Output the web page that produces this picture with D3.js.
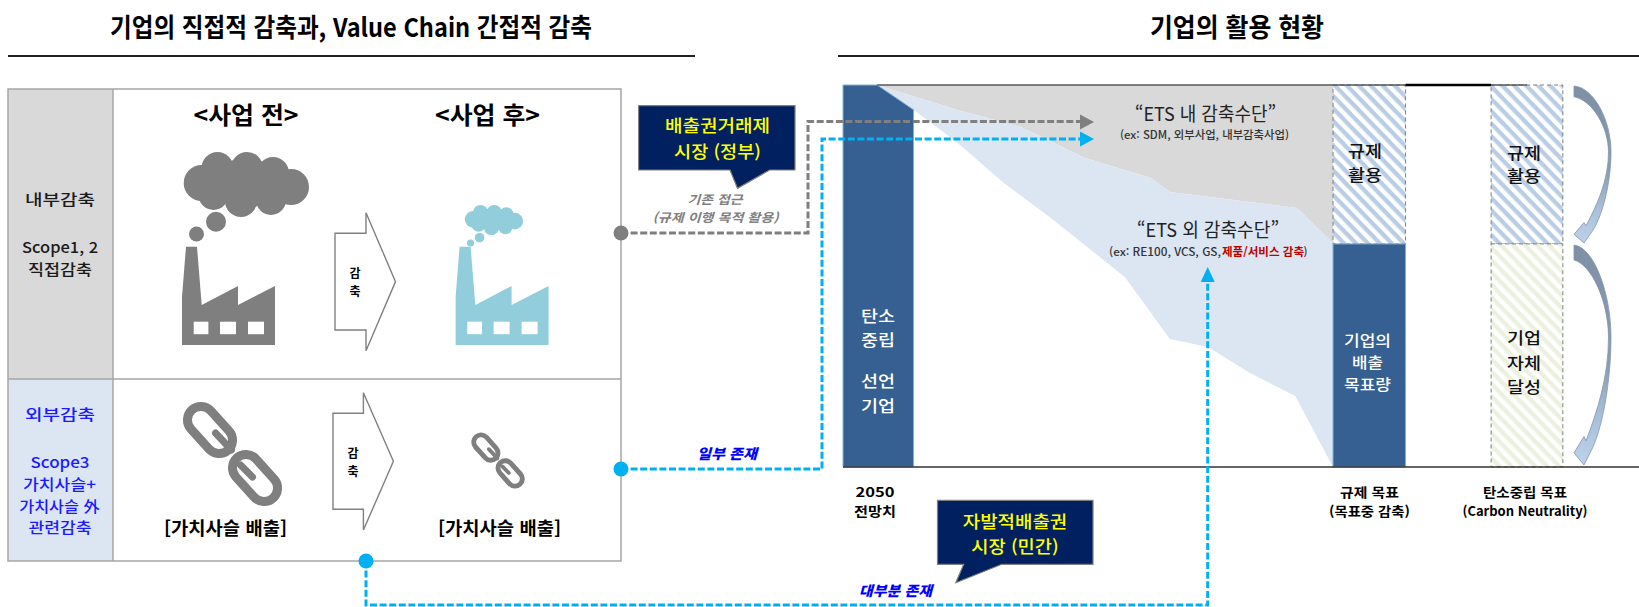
<!DOCTYPE html>
<html lang="ko">
<head>
<meta charset="utf-8">
<title>기업의 감축과 활용 현황</title>
<script src="https://cdn.jsdelivr.net/npm/d3@7/dist/d3.min.js"></script>
<style>
  html, body { margin: 0; padding: 0; background: #fff; }
  svg { display: block; }
  text { font-family: "Noto Sans CJK KR", "Noto Sans", sans-serif; }
</style>
</head>
<body>
<svg id="chart" width="1639" height="607"></svg>
<script>
// Emission pathway, x = 0 at the 2050 outlook bar, x = 100 at the regulatory target bar,
// y = share of the 2050 outlook (%)
const etsEdgeX   = [100, 91.4, 61.1, 56.4, 40.9, 25.6, 10.3, -8.7];
const etsEdgeY   = [58.6, 67.8, 72, 75.7, 80.9, 89, 93.5, 100];
const otherEdgeX = [-8.7, 0, 10.3, 21.6, 32.5, 50.4, 61.1, 70.2, 80.2, 91, 100];
const otherEdgeY = [100, 93.5, 85, 74.3, 65.4, 49.7, 33.5, 31.4, 24.6, 18.6, 0];

// Column spans and the level that divides regulated use from own reduction
const outlookSpan = [-16.83, 0];
const targetSpan = [100, 117.3];
const neutralSpan = [137.7, 154.8];
const stackLevel = 58.4;

// Text
const headings = ["기업의 직접적 감축과, Value Chain 간접적 감축", "기업의 활용 현황"];
const stageLabels = ["<사업 전>", "<사업 후>"];
const chainCaption = "[가치사슬 배출]";
const scopeInner = ["내부감축", "Scope1, 2", "직접감축"];
const scopeOuter = ["외부감축", "Scope3", "가치사슬+", "가치사슬 外", "관련감축"];
const calloutGov = ["배출권거래제", "시장 (정부)"];
const calloutPrivate = ["자발적배출권", "시장 (민간)"];
const axisCaptions = [["2050", "전망치"], ["규제 목표", "(목표중 감축)"], ["탄소중립 목표", "(Carbon Neutrality)"]];

const svg = d3.select("#chart");
const defs = svg.append("defs");

const sx = d3.scaleLinear().domain([0, 100]).range([913.6, 1333]);
const sy = d3.scaleLinear().domain([0, 100]).range([467, 85]);
const poly = d3.line().x(d => sx(d[0])).y(d => sy(d[1]));
const px = d3.line().x(d => d[0]).y(d => d[1]);

const COLORS = {
  rule: "#a6a6a6", grayCell: "#d9d9d9", blueCell: "#dce6f2", bar: "#376092", barEdge: "#7fb3cf",
  icon: "#7f7f7f", iconLight: "#92cddc", navy: "#002060", cyan: "#00b0f0", grayLine: "#7f7f7f"
};

function label(parent, text, cx, cy, width, size, o = {}) {
  const t = parent.append("text")
    .attr("x", cx).attr("y", cy)
    .attr("text-anchor", "middle").attr("dominant-baseline", "central")
    .attr("font-size", size)
    .attr("font-weight", o.weight || 400)
    .attr("font-style", o.italic ? "italic" : null)
    .attr("fill", o.fill || "#111")
    .text(text);
  if (width) t.attr("textLength", width).attr("lengthAdjust", "spacingAndGlyphs");
  return t;
}

/* Section headings and their rules */
const head = svg.append("g");
label(head, headings[0], 351, 25, 482, 26, { weight: 700, fill: "#000" });
label(head, headings[1], 1237, 25, 174, 26, { weight: 700, fill: "#000" });
head.append("rect").attr("x", 8).attr("y", 55).attr("width", 687).attr("height", 2).attr("fill", "#222");
head.append("rect").attr("x", 838).attr("y", 55).attr("width", 801).attr("height", 2).attr("fill", "#222");

/* Left table */
const table = svg.append("g");
table.append("rect").attr("x", 8).attr("y", 89).attr("width", 105).attr("height", 290).attr("fill", COLORS.grayCell);
table.append("rect").attr("x", 8).attr("y", 379).attr("width", 105).attr("height", 182).attr("fill", COLORS.blueCell);
table.append("rect").attr("x", 8).attr("y", 89).attr("width", 613).attr("height", 472)
  .attr("fill", "none").attr("stroke", COLORS.rule).attr("stroke-width", 1.5);
table.selectAll("line.row").data([[8, 379, 621, 379], [113, 89, 113, 561]]).join("line")
  .attr("x1", d => d[0]).attr("y1", d => d[1]).attr("x2", d => d[2]).attr("y2", d => d[3])
  .attr("stroke", COLORS.rule).attr("stroke-width", 1.5);

[[198, 70], [246, 76], [268, 64]].forEach((p, i) =>
  label(table, scopeInner[i], 60, p[0], p[1], 15, { fill: "#1a1a1a", weight: 500 }));
[[413, 70, 60], [461, 59, 60], [483, 73, 59.5], [505, 80.5, 59.5], [526, 63, 60]].forEach((p, i) =>
  label(table, scopeOuter[i], p[2], p[0], p[1], 15, { fill: "#1a1aff", weight: 500 }));

label(table, stageLabels[0], 246, 113, 105, 24, { weight: 700, fill: "#000" });
label(table, stageLabels[1], 487.5, 113, 105, 24, { weight: 700, fill: "#000" });

/* Factory with a smoke cloud */
const cloudLobes = [[201.7, 183, 18], [217.5, 168, 16], [247, 168, 16], [273, 173, 16], [291, 187, 18],
  [241, 201, 16], [213.5, 195, 15], [271, 200, 15], [245, 183, 26]];
const factoryBody = [[182, 345], [182, 296.7], [186, 246.7], [197, 246.7], [201.7, 305], [238, 286], [238, 305],
  [275, 286], [275, 345]];
const factoryWindows = [[193.7, 14.7], [220, 16], [248, 16]];

function factory(dx, color, cloudCx, cloudCy, k, puffs) {
  const g = table.append("g");
  g.append("g").selectAll("circle").data(cloudLobes).join("circle")
    .attr("cx", d => cloudCx + (d[0] - 246.5) * k)
    .attr("cy", d => cloudCy + (d[1] - 184.5) * k)
    .attr("r", d => d[2] * k).attr("fill", color);
  g.append("g").selectAll("circle").data(puffs).join("circle")
    .attr("cx", d => d[0]).attr("cy", d => d[1]).attr("r", d => d[2]).attr("fill", color);
  g.append("path").attr("d", px(factoryBody.map(d => [d[0] + dx, d[1]])) + "Z").attr("fill", color);
  g.append("g").selectAll("rect").data(factoryWindows).join("rect")
    .attr("x", d => d[0] + dx).attr("y", 321.7).attr("width", d => d[1]).attr("height", 12.5).attr("fill", "#fff");
}
factory(0, COLORS.icon, 246.5, 184.5, 1, [[216, 221.7, 10], [196.5, 234, 7.5]]);
factory(273.6, COLORS.iconLight, 494, 220, 0.465, [[479.6, 237.7, 4.8], [470.5, 243, 3.6]]);

/* Chain links */
function chain(cx, cy, k) {
  const g = table.append("g").attr("transform", `translate(${cx},${cy}) scale(${k})`)
    .attr("fill", "none").attr("stroke", COLORS.icon);
  [[-22.5, -24], [22.5, 24]].forEach(c => {
    g.append("rect")
      .attr("x", -27).attr("y", -13.5).attr("width", 54).attr("height", 27).attr("rx", 13.5)
      .attr("transform", `translate(${c[0]},${c[1]}) rotate(48)`)
      .attr("stroke-width", 9);
  });
  g.append("path").attr("d", "M-17,-21L-1,-4").attr("stroke-width", 7).attr("stroke-linecap", "round");
  g.append("path").attr("d", "M8,11L20,23").attr("stroke-width", 7).attr("stroke-linecap", "round");
}
chain(232.5, 454, 1);
chain(498, 460.5, 0.54);
label(table, chainCaption, 225.5, 527, 123, 18, { weight: 700, fill: "#000" });
label(table, chainCaption, 499.5, 527, 123, 18, { weight: 700, fill: "#000" });

/* Reduction block arrows */
function blockArrow(x0, x1, x2, yTop, yBar0, yBar1, yBottom) {
  const g = table.append("g");
  const yMid = (yBar0 + yBar1) / 2;
  g.append("path")
    .attr("d", px([[x0, yBar0], [x1, yBar0], [x1, yTop], [x2, yMid], [x1, yBottom], [x1, yBar1], [x0, yBar1]]) + "Z")
    .attr("fill", "#fff").attr("stroke", "#808080").attr("stroke-width", 1.4);
  const tx = x0 + 20;
  label(g, "감", tx, yMid - 9, null, 12, { weight: 700, fill: "#000" });
  label(g, "축", tx, yMid + 9, null, 12, { weight: 700, fill: "#000" });
}
blockArrow(335, 366, 395.5, 212.7, 233.3, 330, 350.7);
blockArrow(333, 363.4, 393.4, 392.7, 413.3, 509.3, 530);

/* Emission pathway panel */
const chart = svg.append("g");

const hatch = (id, color) => {
  const p = defs.append("pattern").attr("id", id).attr("patternUnits", "userSpaceOnUse")
    .attr("width", 8.6).attr("height", 8.6).attr("patternTransform", "rotate(46)");
  p.append("rect").attr("width", 8.6).attr("height", 8.6).attr("fill", "#fff");
  p.append("rect").attr("width", 8.6).attr("height", 4.3).attr("fill", color);
};
hatch("hatchBlue", "#b9cde5");
hatch("hatchGreen", "#ebf1de");

const etsEdge = etsEdgeX.map((x, i) => [x, etsEdgeY[i]]);
const otherEdge = otherEdgeX.map((x, i) => [x, otherEdgeY[i]]);
chart.append("path").attr("d", poly([[-8.7, 100], [100, 100], ...etsEdge]) + "Z").attr("fill", COLORS.grayCell);
chart.append("path").attr("d", poly([...etsEdge, ...otherEdge]) + "Z").attr("fill", COLORS.blueCell);

// 2050 outlook column, its top right corner follows the reduction edge
chart.append("path")
  .attr("d", poly([[outlookSpan[0], 0], [outlookSpan[0], 100], [-8.7, 100], [outlookSpan[1], 93.5], [outlookSpan[1], 0]]) + "Z")
  .attr("fill", COLORS.bar).attr("stroke", COLORS.barEdge).attr("stroke-width", 1);

function hatchedBlock(span, y0, y1, fill) {
  chart.append("rect")
    .attr("x", sx(span[0])).attr("width", sx(span[1]) - sx(span[0]))
    .attr("y", sy(y1)).attr("height", sy(y0) - sy(y1))
    .attr("fill", fill).attr("stroke", COLORS.grayLine).attr("stroke-width", 1).attr("stroke-dasharray", "4 3");
}
hatchedBlock(targetSpan, stackLevel, 100, "url(#hatchBlue)");
chart.append("rect")
  .attr("x", sx(targetSpan[0])).attr("width", sx(targetSpan[1]) - sx(targetSpan[0]))
  .attr("y", sy(stackLevel)).attr("height", sy(0) - sy(stackLevel))
  .attr("fill", COLORS.bar).attr("stroke", COLORS.barEdge).attr("stroke-width", 1);
hatchedBlock(neutralSpan, stackLevel, 100, "url(#hatchBlue)");
hatchedBlock(neutralSpan, 0, stackLevel, "url(#hatchGreen)");

// Top and base rules
chart.append("line").attr("x1", sx(-8.7)).attr("x2", 1527).attr("y1", sy(100)).attr("y2", sy(100))
  .attr("stroke", "#595959").attr("stroke-width", 1.5);
chart.append("line").attr("x1", sx(targetSpan[1])).attr("x2", sx(neutralSpan[0])).attr("y1", sy(100)).attr("y2", sy(100))
  .attr("stroke", "#000").attr("stroke-width", 2.5);
chart.append("line").attr("x1", sx(outlookSpan[0])).attr("x2", 1639).attr("y1", sy(0)).attr("y2", sy(0))
  .attr("stroke", "#333").attr("stroke-width", 1.6);

// Column labels
[["탄소", 315], ["중립", 339], ["선언", 380], ["기업", 405]].forEach(d =>
  label(chart, d[0], 878, d[1], 34, 16, { fill: "#fff", weight: 500 }));
[["규제", 150], ["활용", 174]].forEach(d => label(chart, d[0], 1365, d[1], 34, 16, { fill: "#111", weight: 500 }));
[["규제", 151.5], ["활용", 175]].forEach(d => label(chart, d[0], 1524, d[1], 34, 16, { fill: "#111", weight: 500 }));
[["기업의", 339, 47], ["배출", 361.5, 31], ["목표량", 383, 47]].forEach(d =>
  label(chart, d[0], 1367.5, d[1], d[2], 15, { fill: "#fff", weight: 500 }));
[["기업", 337], ["자체", 362], ["달성", 386]].forEach(d => label(chart, d[0], 1524, d[1], 34, 16, { fill: "#111", weight: 500 }));

// Reduction means captions
label(chart, "“ETS 내 감축수단”", 1205.5, 112, 141, 19, { fill: "#222" });
label(chart, "(ex: SDM, 외부사업, 내부감축사업)", 1204.5, 134, 169, 11, { fill: "#333", weight: 500 });
label(chart, "“ETS 외 감축수단”", 1208, 228, 142, 19, { fill: "#222" });
label(chart, "(ex: RE100, VCS, GS,", 1165, 251, 112, 11, { fill: "#333", weight: 500 });
label(chart, "제품/서비스 감축", 1263, 251, 82, 11, { fill: "#c00000", weight: 700 });
label(chart, ")", 1305.5, 251, null, 11, { fill: "#333", weight: 500 });

// Axis captions
const captionCenters = [875, 1369.5, 1525];
const captionWidths = [[39, 42], [59, 81], [84, 125]];
axisCaptions.forEach((pair, i) => {
  label(chart, pair[0], captionCenters[i], 491.5, captionWidths[i][0], 13, { weight: 700, fill: "#000" });
  label(chart, pair[1], captionCenters[i], 510.5, captionWidths[i][1], 13, { weight: 700, fill: "#000" });
});

/* Curved brace arrows beside the carbon neutrality column */
defs.append("linearGradient").attr("id", "braceFill").attr("x1", 0).attr("y1", 0).attr("x2", 0).attr("y2", 1)
  .selectAll("stop")
  .data([[0, "#7d90a6"], [0.55, "#8a9db4"], [0.78, "#a9c0da"], [1, "#bdd2ea"]])
  .join("stop").attr("offset", d => d[0]).attr("stop-color", d => d[1]);

function brace(y0, y1) {
  const h = y1 - y0;
  const Y = t => y0 + h * t;
  const X = 1574;
  const d = `M${X},${Y(0)}
    C${X + 20},${Y(0.01)} ${X + 37},${Y(0.22)} ${X + 37},${Y(0.42)}
    C${X + 37},${Y(0.62)} ${X + 28},${Y(0.85)} ${X + 16},${Y(0.945)}
    L${X + 10},${Y(1)} L${X},${Y(0.945)} L${X + 10},${Y(0.87)} L${X + 12},${Y(0.89)}
    C${X + 23},${Y(0.76)} ${X + 34.5},${Y(0.6)} ${X + 34.5},${Y(0.42)}
    C${X + 34.5},${Y(0.26)} ${X + 18},${Y(0.09)} ${X},${Y(0.068)} Z`;
  svg.append("path").attr("d", d).attr("fill", "url(#braceFill)")
    .attr("stroke", "#8496a9").attr("stroke-width", 0.8);
}
brace(86, 243);
brace(245, 465);

/* Connectors */
const links = svg.append("g").attr("fill", "none").attr("stroke-width", 3);
const connector = (points, color) => links.append("path").attr("d", px(points))
  .attr("stroke", color).attr("stroke-dasharray", "7 2.6");
connector([[621, 233], [808, 233], [808, 121.5], [1082, 121.5]], COLORS.grayLine);
connector([[621, 469], [822, 469], [822, 139], [1082, 139]], COLORS.cyan);
connector([[366, 561], [366, 605], [1207.7, 605], [1207.7, 280]], COLORS.cyan);

const nodes = svg.append("g");
nodes.append("circle").attr("cx", 621).attr("cy", 233).attr("r", 7.5).attr("fill", COLORS.grayLine);
nodes.append("circle").attr("cx", 621).attr("cy", 469).attr("r", 7.5).attr("fill", COLORS.cyan);
nodes.append("circle").attr("cx", 366).attr("cy", 561).attr("r", 7.5).attr("fill", COLORS.cyan);
nodes.append("path").attr("d", px([[1080, 114.5], [1094, 122], [1080, 129.5]]) + "Z").attr("fill", COLORS.grayLine);
nodes.append("path").attr("d", px([[1080, 131.5], [1094, 139], [1080, 146.5]]) + "Z").attr("fill", COLORS.cyan);
nodes.append("path").attr("d", px([[1200.7, 282], [1207.7, 267], [1214.7, 282]]) + "Z").attr("fill", COLORS.cyan);

/* Callouts and connector captions */
function callout(shape, lines) {
  const g = svg.append("g");
  g.append("path").attr("d", px(shape) + "Z")
    .attr("fill", COLORS.navy).attr("stroke", "#7f7f7f").attr("stroke-width", 1.2);
  lines.forEach(l => label(g, l[0], l[1], l[2], l[3], 17, { fill: "#ffff00", weight: 500 }));
}
callout([[638.6, 105.7], [795, 105.7], [795, 170], [769.6, 170], [737.5, 188.3], [730, 170], [638.6, 170]],
  [[calloutGov[0], 717.5, 124, 105], [calloutGov[1], 717.5, 150, 87]]);
callout([[937.5, 500.3], [1093, 500.3], [1093, 564.3], [1001.8, 564.3], [955.8, 582.7], [963.7, 564.3], [937.5, 564.3]],
  [[calloutPrivate[0], 1015, 520, 104.5], [calloutPrivate[1], 1015, 545, 87.5]]);

label(svg, "기존 접근", 715, 198.5, 55, 12, { weight: 700, italic: true, fill: "#7f7f7f" });
label(svg, "(규제 이행 목적 활용)", 715.5, 216.5, 126, 12, { weight: 700, italic: true, fill: "#7f7f7f" });
label(svg, "일부 존재", 727, 453, 60, 14, { weight: 900, italic: true, fill: "#0000ff" });
label(svg, "대부분 존재", 895.5, 590, 73, 14, { weight: 900, italic: true, fill: "#0000ff" });
</script>
</body>
</html>
